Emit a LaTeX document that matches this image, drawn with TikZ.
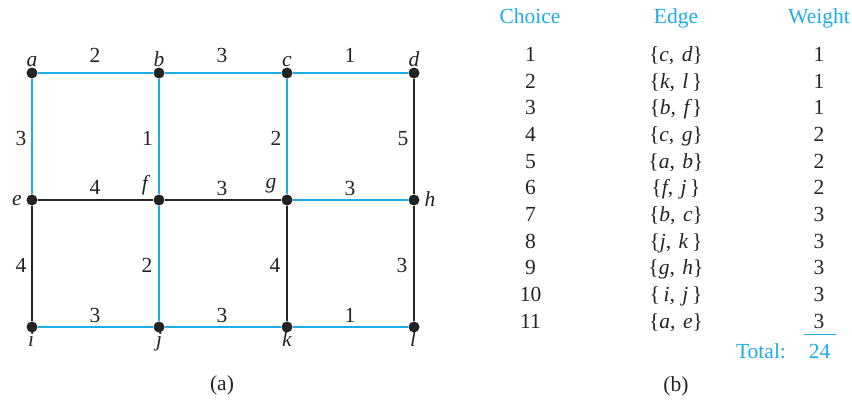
\documentclass[tikz,border=0pt]{standalone}
\usepackage{fontspec}
\setmainfont{Liberation Serif}
\definecolor{tblue}{RGB}{30,172,232}
\definecolor{tblack}{RGB}{35,35,35}
\begin{document}
\begin{tikzpicture}[x=1pt,y=-1pt,
  every node/.style={font=\fontsize{21.5}{25}\selectfont, text=tblack},
  dot/.style={circle,fill=tblack,inner sep=0pt,minimum size=11pt},
  lbl/.style={anchor=base,inner sep=0pt},
  hdr/.style={lbl,text=tblue},
  tree/.style={draw=tblue,line width=1.6pt},
  other/.style={draw=tblack,line width=1.6pt}]
\useasboundingbox (0,0) rectangle (852,402);
% vertices
\node[dot] (a) at (32,73) {};
\node[dot] (b) at (159,73) {};
\node[dot] (c) at (287,73) {};
\node[dot] (d) at (414,73) {};
\node[dot] (e) at (32,200) {};
\node[dot] (f) at (159,200) {};
\node[dot] (g) at (287,200) {};
\node[dot] (h) at (414,200) {};
\node[dot] (i) at (32,327) {};
\node[dot] (j) at (159,327) {};
\node[dot] (k) at (287,327) {};
\node[dot] (l) at (414,327) {};
% edges
\draw[tree] (a) -- (b);
\draw[tree] (b) -- (c);
\draw[tree] (c) -- (d);
\draw[tree] (a) -- (e);
\draw[tree] (b) -- (f);
\draw[tree] (c) -- (g);
\draw[tree] (g) -- (h);
\draw[tree] (f) -- (j);
\draw[tree] (i) -- (j);
\draw[tree] (j) -- (k);
\draw[tree] (k) -- (l);
\draw[other] (d) -- (h);
\draw[other] (e) -- (f);
\draw[other] (f) -- (g);
\draw[other] (e) -- (i);
\draw[other] (g) -- (k);
\draw[other] (h) -- (l);
% vertex labels
\node[lbl] (la) at (32,66.7) {\textit{a}};
\node[lbl] (lb) at (159,66.7) {\textit{b}};
\node[lbl] (lc) at (287,66.7) {\textit{c}};
\node[lbl] (ld) at (414,66.7) {\textit{d}};
\node[lbl] (le) at (17,205) {\textit{e}};
\node[lbl] (lf) at (146,190) {\textit{f}};
\node[lbl] (lg) at (271,188) {\textit{g}};
\node[lbl] (lh) at (430,206.5) {\textit{h}};
\node[lbl] (li) at (31,346) {\textit{i}};
\node[lbl] (lj) at (159,346) {\textit{j}};
\node[lbl] (lk) at (287,346) {\textit{k}};
\node[lbl] (ll) at (413,346) {\textit{l}};
% weights
\node[lbl] (wab) at (95,62) {2};
\node[lbl] (wbc) at (222,62) {3};
\node[lbl] (wcd) at (350,62) {1};
\node[lbl] (wae) at (21,145) {3};
\node[lbl] (wbf) at (147.5,145) {1};
\node[lbl] (wcg) at (276,145) {2};
\node[lbl] (wdh) at (403,145) {5};
\node[lbl] (wef) at (95,194.5) {4};
\node[lbl] (wfg) at (222,195) {3};
\node[lbl] (wgh) at (350,195) {3};
\node[lbl] (wei) at (21,272) {4};
\node[lbl] (wfj) at (147,272) {2};
\node[lbl] (wgk) at (275,272) {4};
\node[lbl] (whl) at (402,272) {3};
\node[lbl] (wij) at (95,322) {3};
\node[lbl] (wjk) at (222,322) {3};
\node[lbl] (wkl) at (350,322) {1};
\node[lbl] (capa) at (222,390) {(a)};
% table
\node[hdr] (hc) at (530,23) {Choice};
\node[hdr] (he) at (676,23) {Edge};
\node[hdr] (hw) at (819,23) {Weight};
\foreach \n/\ed/\w [count=\r from 0] in {
  1/{\{\textit{c},\hspace{0.35em}\textit{d}\}}/1,
  2/{\{\textit{k},\hspace{0.35em}\textit{l}\,\}}/1,
  3/{\{\textit{b},\hspace{0.35em}\textit{f}\}}/1,
  4/{\{\textit{c},\hspace{0.35em}\textit{g}\}}/2,
  5/{\{\textit{a},\hspace{0.35em}\textit{b}\}}/2,
  6/{\{\textit{f},\hspace{0.35em}\textit{j}\,\}}/2,
  7/{\{\textit{b},\hspace{0.35em}\textit{c}\}}/3,
  8/{\{\textit{j},\hspace{0.35em}\textit{k}\,\}}/3,
  9/{\{\textit{g},\hspace{0.35em}\textit{h}\}}/3,
  10/{\{\,\textit{i},\hspace{0.35em}\textit{j}\,\}}/3,
  11/{\{\textit{a},\hspace{0.35em}\textit{e}\}}/3}
{
  \node[lbl] (n\r) at (530.5,61.7+26.63*\r) {\n};
  \node[lbl] (e\r) at (676,61.7+26.63*\r) {\ed};
  \node[lbl] (w\r) at (819,61.7+26.63*\r) {\w};
}
\coordinate (sl) at (804,334.5);
\coordinate (sr) at (835.5,334.5);
\draw[draw=tblue,line width=1.3pt] (sl) -- (sr);
\node[hdr] (tot) at (761,358) {Total:};
\node[hdr] (sum) at (819.5,358) {24};
\node[lbl] (capb) at (676,391) {(b)};
\end{tikzpicture}
\end{document}
